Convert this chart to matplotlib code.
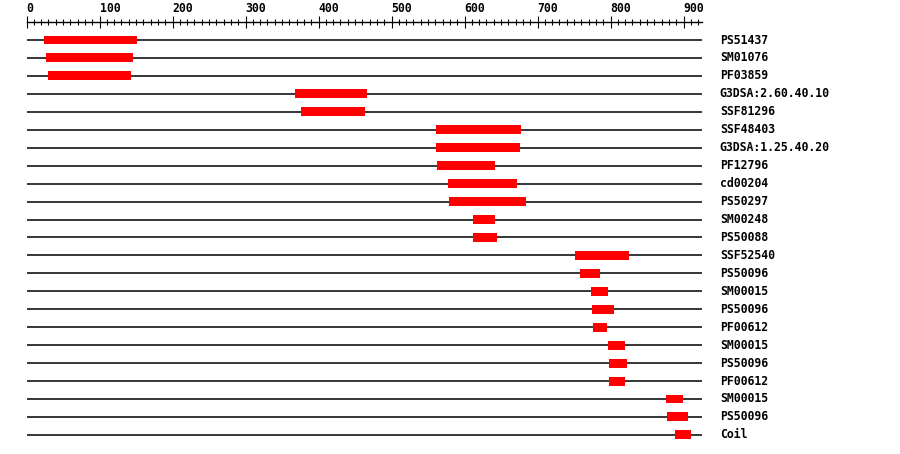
import matplotlib
matplotlib.use("Agg")
import matplotlib.pyplot as plt
from matplotlib.ticker import MultipleLocator

# Domain data ------------------------------------------------------------------

seq_len = 925

names = [
    "PS51437", "SM01076", "PF03859", "G3DSA:2.60.40.10", "SSF81296",
    "SSF48403", "G3DSA:1.25.40.20", "PF12796", "cd00204", "PS50297",
    "SM00248", "PS50088", "SSF52540", "PS50096", "SM00015", "PS50096",
    "PF00612", "SM00015", "PS50096", "PF00612", "SM00015", "PS50096", "Coil",
]
starts = [24, 27, 30, 368, 376, 561, 561, 562, 577, 579, 611, 611,
          752, 758, 773, 774, 776, 796, 798, 798, 876, 877, 889]
ends = [151, 146, 143, 466, 464, 677, 676, 642, 672, 684, 642, 644,
        825, 786, 796, 805, 795, 820, 822, 820, 899, 906, 910]

# Plot ---------------------------------------------------------------------------

font = {"family": "DejaVu Sans Mono", "weight": "bold", "size": 8.3}

fig = plt.figure(figsize=(9, 4.54), dpi=100)
ax = fig.add_axes([26.5 / 900, 0, 0.73 * seq_len / 900, 1])
ax.set_xlim(0, seq_len)
rows = list(range(len(names)))
ax.set_ylim((454 - 40) / 17.95, -40 / 17.95)

ax.hlines(rows, 0, seq_len, color="black", lw=1.1, zorder=1)
widths = [e - s for s, e in zip(starts, ends)]
ax.barh(rows, widths, left=starts, height=0.5, color="#ff0000", zorder=2)

for r, name in enumerate(names):
    ax.annotate(name, xy=(seq_len, r), xytext=(13, 0), textcoords="offset points",
                va="center", ha="left", annotation_clip=False, **font)

# ruler at the top
for side in ["left", "right", "bottom"]:
    ax.spines[side].set_visible(False)
ax.spines["top"].set_position(("data", -1))
ax.spines["top"].set_bounds(0, seq_len)
ax.spines["top"].set_linewidth(1)
ax.xaxis.set_ticks_position("top")
ax.xaxis.set_major_locator(MultipleLocator(100))
ax.xaxis.set_minor_locator(MultipleLocator(10))
ax.tick_params(axis="x", which="major", direction="inout", length=8.6, width=0.8, pad=0.8)
ax.tick_params(axis="x", which="minor", direction="inout", length=4.6, width=0.8)
ax.set_xticks(range(0, 901, 100))
for lbl in ax.get_xticklabels():
    lbl.set_horizontalalignment("left")
    lbl.set_fontproperties(matplotlib.font_manager.FontProperties(**font))
ax.set_yticks([])

plt.savefig("out.png", dpi=100)
